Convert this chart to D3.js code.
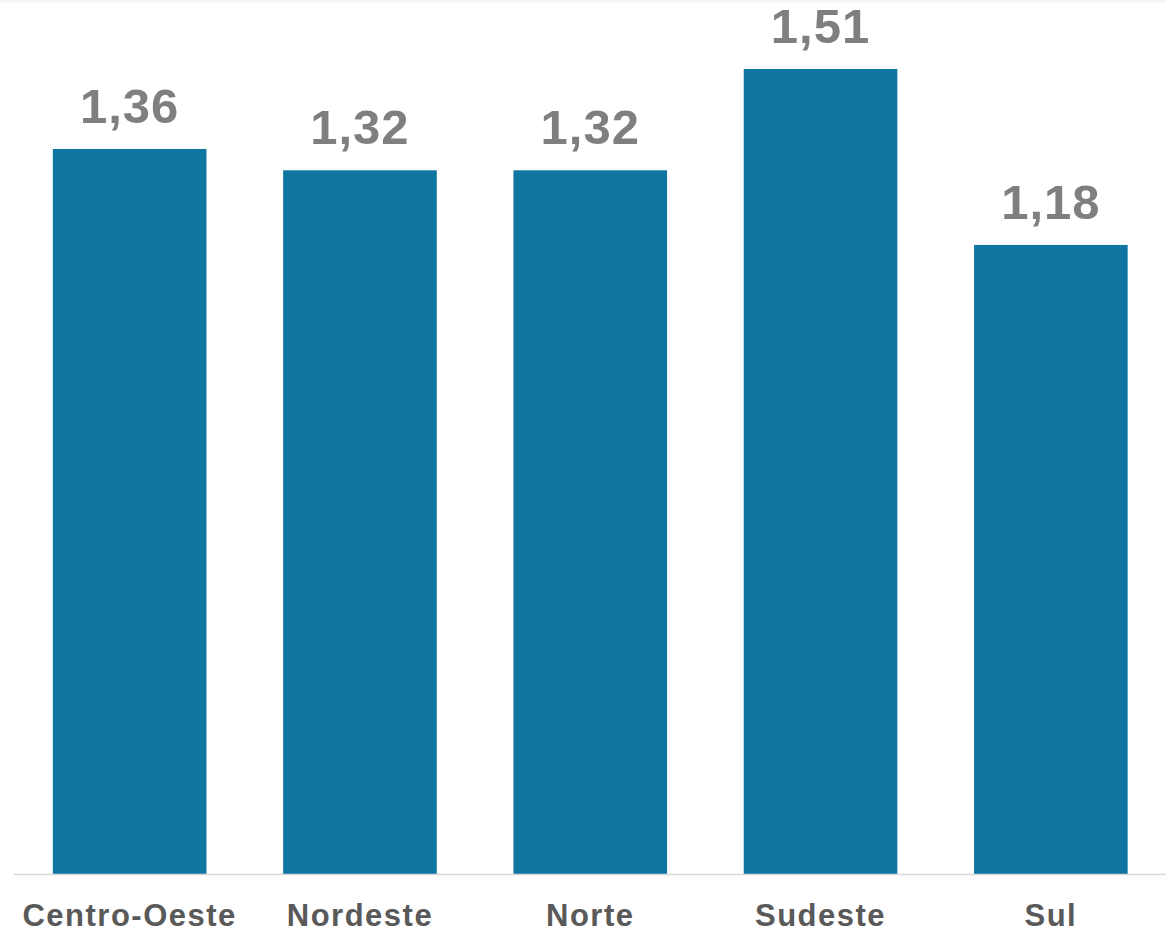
<!DOCTYPE html>
<html>
<head>
<meta charset="utf-8">
<script src="https://cdn.jsdelivr.net/npm/d3@7"></script>
<style>
  body { margin: 0; background: #fff; }
  svg { display: block; }
</style>
</head>
<body>
<script>
var w = 1166;
var h = 931;

var regioes = ['Centro-Oeste', 'Nordeste', 'Norte', 'Sudeste', 'Sul'];
var valores = [1.36, 1.32, 1.32, 1.51, 1.18];

var svg = d3.select('body')
   .append('svg')
   .attr('width', w)
   .attr('height', h);

// faint strip along the top edge
svg.append('rect')
   .attr('x', 0).attr('y', 0)
   .attr('width', w).attr('height', 3)
   .attr('fill', '#f6f6f6');

var x = d3.scaleBand()
   .domain(regioes)
   .range([14.5, 1166])
   .paddingInner(0.333)
   .paddingOuter(0.1665);

var y = d3.scaleLinear()
   .domain([0, 1.51])
   .range([874, 69]);

var fmt = function(d) {
   return d3.format('.2f')(d).replace('.', ',');
};

// bars
svg.selectAll('rect.bar')
   .data(valores)
   .enter()
   .append('rect')
   .attr('class', 'bar')
   .attr('x', function(d, i) { return x(regioes[i]); })
   .attr('y', function(d) { return y(d); })
   .attr('width', x.bandwidth())
   .attr('height', function(d) { return y(0) - y(d); })
   .attr('fill', '#0e76a0');

// baseline
svg.append('line')
   .attr('x1', 14).attr('x2', w)
   .attr('y1', y(0) + 0.5).attr('y2', y(0) + 0.5)
   .attr('stroke', '#d9d9d9')
   .attr('stroke-width', 1.5);

// value labels
svg.selectAll('text.val')
   .data(valores)
   .enter()
   .append('text')
   .attr('class', 'val')
   .text(fmt)
   .attr('x', function(d, i) { return x(regioes[i]) + x.bandwidth() / 2; })
   .attr('y', function(d) { return y(d) - 26; })
   .attr('text-anchor', 'middle')
   .attr('font-family', 'Liberation Sans, Arial, sans-serif')
   .attr('font-weight', 'bold')
   .attr('font-size', '49px')
   .attr('letter-spacing', '1px')
   .attr('fill', '#7f7f7f');

// category labels
svg.selectAll('text.cat')
   .data(regioes)
   .enter()
   .append('text')
   .attr('class', 'cat')
   .text(function(d) { return d; })
   .attr('x', function(d) { return x(d) + x.bandwidth() / 2; })
   .attr('y', 926)
   .attr('text-anchor', 'middle')
   .attr('font-family', 'Liberation Sans, Arial, sans-serif')
   .attr('font-weight', 'bold')
   .attr('font-size', '31px')
   .attr('letter-spacing', '1.5px')
   .attr('fill', '#595959');
</script>
</body>
</html>
